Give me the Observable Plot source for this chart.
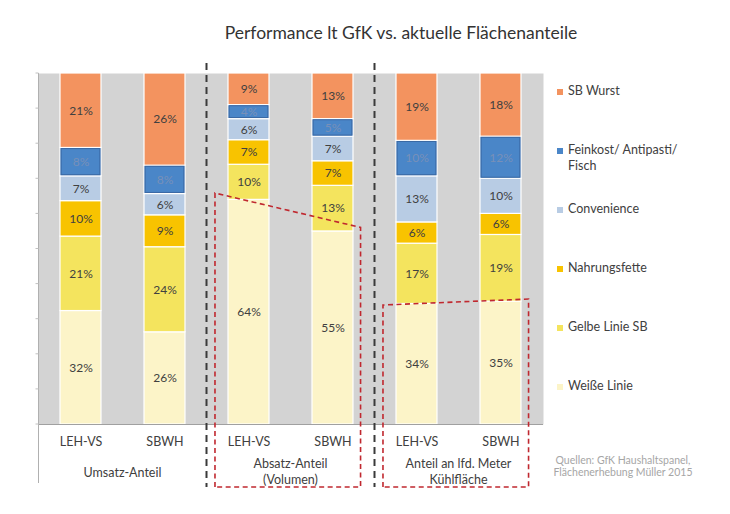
<!DOCTYPE html>
<html><head><meta charset="utf-8">
<script src="https://cdn.jsdelivr.net/npm/d3@7"></script>
<script src="https://cdn.jsdelivr.net/npm/@observablehq/plot@0.6"></script>
<style>
body{margin:0;background:#fff;overflow:hidden;font-family:Lato,"Open Sans",sans-serif;}
#wrap{position:relative;width:730px;height:514px;}
#title{height:55px;position:relative;}
#title span{position:absolute;left:101px;width:600px;text-align:center;top:23px;font-size:17.5px;color:#333;line-height:20px;white-space:nowrap;}
.leg{position:absolute;left:557px;font-size:12.5px;line-height:16px;color:#404040;white-space:nowrap;}
.leg i{position:absolute;left:0;top:6px;width:6px;height:6px;}
.leg span{position:absolute;left:11px;top:0;}
#src{position:absolute;left:523px;width:200px;top:454px;text-align:center;font-size:10.5px;line-height:12px;color:#a6a6a6;white-space:nowrap;}
</style></head>
<body><div id="wrap"><div id="title"><span>Performance lt GfK vs. aktuelle Flächenanteile</span></div><div id="chart"></div><div id="legend"></div><div id="src">Quellen: GfK Haushaltspanel,<br>Flächenerhebung Müller 2015</div></div>
<script>
// ---- data ----
const barLabels = ["LEH-VS", "SBWH", "LEH-VS", "SBWH", "LEH-VS", "SBWH"];
const groupLabels = ["Umsatz-Anteil", "Absatz-Anteil\n(Volumen)", "Anteil an lfd. Meter\nKühlfläche"];
const seriesNames = ["Weiße Linie", "Gelbe Linie SB", "Nahrungsfette", "Convenience", "Feinkost/ Antipasti/ Fisch", "SB Wurst"];
const weisseLinie = [32, 26, 64, 55, 34, 35];
const gelbeLinie = [21, 24, 10, 13, 17, 19];
const nahrungsfette = [10, 9, 7, 7, 6, 6];
const convenience = [7, 6, 6, 7, 13, 10];
const feinkost = [8, 8, 4, 5, 10, 12];
const sbWurst = [21, 26, 9, 13, 19, 18];
const seriesColors = ["#fcf4c8", "#f4e45e", "#f8c300", "#b8cce4", "#4a86c8", "#f3935f"];
// highlighted (red dashed) boxes: group index, top-left and top-right level in %
const highlightGroup = [1, 2];
const highlightLeft = [65.8, 33.9];
const highlightRight = [56.0, 35.6];

const ids = barLabels.map((b, i) => `${i}-${b}`);
const seriesValues = [weisseLinie, gelbeLinie, nahrungsfette, convenience, feinkost, sbWurst];
const data = [];
seriesNames.forEach((s, si) => ids.forEach((id, bi) => data.push({id, series: s, value: seriesValues[si][bi]})));
const FEIN = seriesNames[4];

function decor(index, scales, values, dims) {
  const x = scales.x, y = scales.y;
  const step = x(ids[1]) - x(ids[0]);
  const bw = typeof x.bandwidth === "function" ? x.bandwidth() : step * 0.49;
  const pad = (step - bw) / 2;
  const g = d3.create("svg:g");
  const top = dims.marginTop - 10, bot = dims.height - 27;
  const x0 = x(ids[0]) - pad;
  // left axis line + ticks
  g.append("line").attr("x1", x0).attr("x2", x0).attr("y1", dims.marginTop).attr("y2", bot - 4)
    .attr("stroke", "#b0b0b0").attr("stroke-width", 1);
  d3.range(0, 11).forEach(k => {
    g.append("line").attr("x1", x0 - 3).attr("x2", x0).attr("y1", y(k / 10)).attr("y2", y(k / 10))
      .attr("stroke", "#c0c0c0");
  });
  // group separators
  for (let gi = 1; gi < groupLabels.length; gi++) {
    const xs = x(ids[gi * 2]) - pad;
    g.append("line").attr("x1", xs).attr("x2", xs).attr("y1", top).attr("y2", bot)
      .attr("stroke", "#3a3a3a").attr("stroke-width", 2).attr("stroke-dasharray", "7,5");
  }
  // group labels
  groupLabels.forEach((label, gi) => {
    const cx = (x(ids[2 * gi]) + x(ids[2 * gi + 1]) + bw) / 2;
    const lines = label.split("\n");
    const t = g.append("text").attr("text-anchor", "middle").attr("fill", "#404040")
      .attr("font-size", 12.5).attr("font-family", "Lato, sans-serif");
    lines.forEach((ln, li) => {
      const base = dims.height - 37 + (li - (lines.length - 1) / 2) * 15.5 + (lines.length === 1 ? 0 : -1);
      t.append("tspan").attr("x", cx).attr("y", base).text(ln);
    });
  });
  // red highlight boxes
  highlightGroup.forEach((gi, k) => {
    const a = ids[2 * gi], b = ids[2 * gi + 1];
    const xl = x(a) - 0.155 * step, xr = x(b) + bw + 0.09 * step;
    const p = `M${xl},${bot}L${xl},${y(highlightLeft[k] / 100)}L${xr},${y(highlightRight[k] / 100)}L${xr},${bot}Z`;
    g.append("path").attr("d", p).attr("fill", "none").attr("stroke", "#c0282f")
      .attr("stroke-width", 1.6).attr("stroke-dasharray", "5,3.5");
  });
  return g.node();
}

const stackOpts = {x: "id", y: "value", z: "series", offset: "normalize", order: null};
const chart = Plot.plot({
  width: 730, height: 459,
  marginTop: 18, marginBottom: 90, marginLeft: 38, marginRight: 187,
  style: {fontFamily: "Lato, sans-serif", background: "transparent"},
  x: {domain: ids, paddingInner: 0.51, paddingOuter: 0.255, axis: null, label: null},
  y: {domain: [0, 1], axis: null},
  color: {domain: seriesNames, range: seriesColors},
  marks: [
    Plot.frame({fill: "#d3d3d3", stroke: null}),
    Plot.barY(data, Plot.stackY({...stackOpts, fill: "series", stroke: "white", strokeWidth: 1.2})),
    Plot.barY(data, Plot.stackY({...stackOpts, fill: null, stroke: "#3a68a3", strokeWidth: 1,
      strokeOpacity: d => d.series === FEIN ? 1 : 0, inset: 1.1})),
    Plot.text(data, Plot.stackY({...stackOpts, text: d => d.series === FEIN ? "" : d.value + "%",
      fill: "#404040", fontSize: 12})),
    Plot.text(data, Plot.stackY({...stackOpts, text: d => d.series === FEIN ? d.value + "%" : "",
      fill: "#7890b8", fontSize: 12})),
    Plot.ruleY([0], {stroke: "#a0a0a0", strokeWidth: 1}),
    decor,
    Plot.axisX({tickSize: 0, tickPadding: 13, fontSize: 12.5, fill: "#404040", label: null,
      tickFormat: d => barLabels[ids.indexOf(d)]})
  ]
});
document.getElementById("chart").appendChild(chart);

// legend (top to bottom: reverse stacking order)
const leg = document.getElementById("legend");
const legendOrder = seriesNames.map((s, i) => i).reverse();
legendOrder.forEach((si, k) => {
  const div = document.createElement("div");
  div.className = "leg";
  div.style.top = (83.2 + k * 58.9) + "px";
  const sw = document.createElement("i");
  sw.style.background = seriesColors[si];
  const sp = document.createElement("span");
  const name = seriesNames[si];
  if (name.startsWith("Feinkost")) { sp.innerHTML = "Feinkost/ Antipasti/<br>Fisch"; } else { sp.textContent = name; }
  div.appendChild(sw); div.appendChild(sp);
  leg.appendChild(div);
});
</script></body></html>
